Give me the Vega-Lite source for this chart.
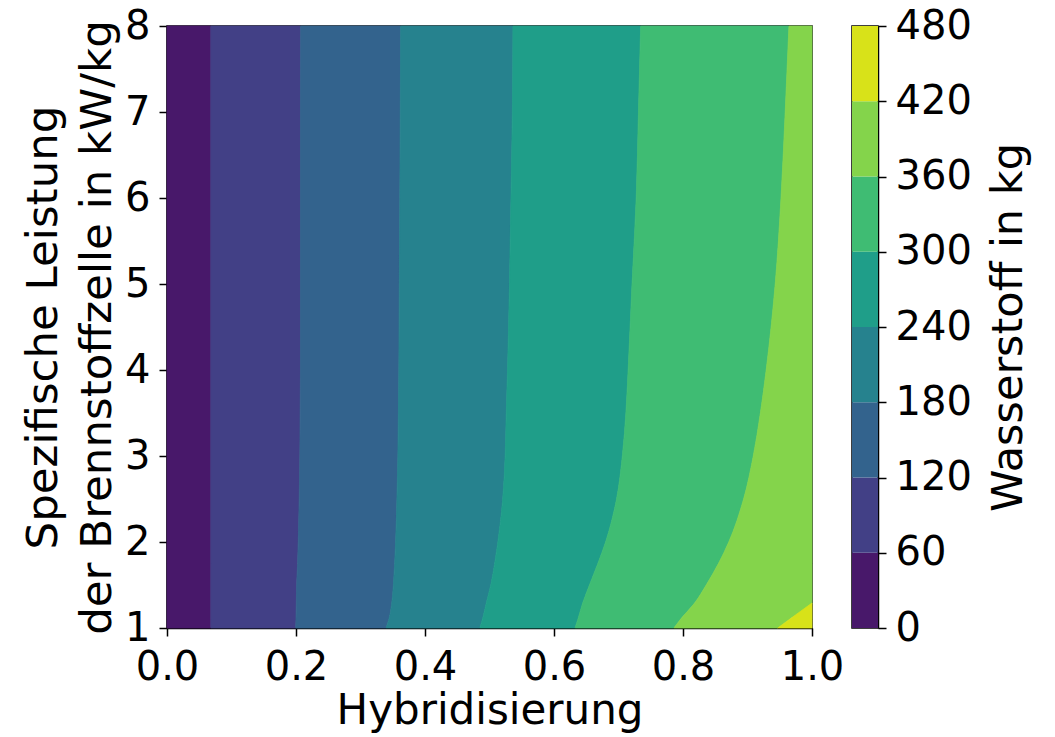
{
  "$schema": "https://vega.github.io/schema/vega-lite/v6.json",
  "background": "white",
  "padding": {"left": 20, "top": 5, "right": 5, "bottom": 2},
  "bounds": "flush",
  "spacing": 40,
  "config": {
    "font": "DejaVu Sans",
    "view": {"stroke": "black", "strokeWidth": 1.5},
    "axis": {
      "grid": false,
      "domainColor": "black",
      "domainWidth": 1.5,
      "tickColor": "black",
      "tickWidth": 1.5,
      "tickSize": 8,
      "labelColor": "black",
      "labelFontSize": 40,
      "labelPadding": 9,
      "labelOverlap": false,
      "labelFlush": false,
      "titleColor": "black",
      "titleFontSize": 42,
      "titleFontWeight": "normal"
    }
  },
  "datasets": {
    "bands": [
      {"band": 0, "y": 1, "x_lo": 0, "x_hi": 0.068},
      {"band": 0, "y": 1.1, "x_lo": 0, "x_hi": 0.068},
      {"band": 0, "y": 1.29, "x_lo": 0, "x_hi": 0.068},
      {"band": 0, "y": 1.5, "x_lo": 0, "x_hi": 0.068},
      {"band": 0, "y": 1.75, "x_lo": 0, "x_hi": 0.068},
      {"band": 0, "y": 2, "x_lo": 0, "x_hi": 0.068},
      {"band": 0, "y": 2.5, "x_lo": 0, "x_hi": 0.068},
      {"band": 0, "y": 3, "x_lo": 0, "x_hi": 0.068},
      {"band": 0, "y": 3.5, "x_lo": 0, "x_hi": 0.068},
      {"band": 0, "y": 4, "x_lo": 0, "x_hi": 0.068},
      {"band": 0, "y": 5, "x_lo": 0, "x_hi": 0.068},
      {"band": 0, "y": 6, "x_lo": 0, "x_hi": 0.068},
      {"band": 0, "y": 7, "x_lo": 0, "x_hi": 0.068},
      {"band": 0, "y": 8, "x_lo": 0, "x_hi": 0.068},

      {"band": 60, "y": 1, "x_lo": 0.068, "x_hi": 0.1995},
      {"band": 60, "y": 1.1, "x_lo": 0.068, "x_hi": 0.2},
      {"band": 60, "y": 1.29, "x_lo": 0.068, "x_hi": 0.2005},
      {"band": 60, "y": 1.5, "x_lo": 0.068, "x_hi": 0.201},
      {"band": 60, "y": 1.75, "x_lo": 0.068, "x_hi": 0.2025},
      {"band": 60, "y": 2, "x_lo": 0.068, "x_hi": 0.2035},
      {"band": 60, "y": 2.5, "x_lo": 0.068, "x_hi": 0.205},
      {"band": 60, "y": 3, "x_lo": 0.068, "x_hi": 0.206},
      {"band": 60, "y": 3.5, "x_lo": 0.068, "x_hi": 0.2065},
      {"band": 60, "y": 4, "x_lo": 0.068, "x_hi": 0.207},
      {"band": 60, "y": 5, "x_lo": 0.068, "x_hi": 0.207},
      {"band": 60, "y": 6, "x_lo": 0.068, "x_hi": 0.207},
      {"band": 60, "y": 7, "x_lo": 0.068, "x_hi": 0.207},
      {"band": 60, "y": 8, "x_lo": 0.068, "x_hi": 0.2073},

      {"band": 120, "y": 1, "x_lo": 0.1995, "x_hi": 0.3395},
      {"band": 120, "y": 1.1, "x_lo": 0.2, "x_hi": 0.344},
      {"band": 120, "y": 1.29, "x_lo": 0.2005, "x_hi": 0.3485},
      {"band": 120, "y": 1.5, "x_lo": 0.201, "x_hi": 0.351},
      {"band": 120, "y": 1.75, "x_lo": 0.2025, "x_hi": 0.353},
      {"band": 120, "y": 2, "x_lo": 0.2035, "x_hi": 0.3545},
      {"band": 120, "y": 2.5, "x_lo": 0.205, "x_hi": 0.3565},
      {"band": 120, "y": 3, "x_lo": 0.206, "x_hi": 0.358},
      {"band": 120, "y": 3.5, "x_lo": 0.2065, "x_hi": 0.3588},
      {"band": 120, "y": 4, "x_lo": 0.207, "x_hi": 0.3595},
      {"band": 120, "y": 5, "x_lo": 0.207, "x_hi": 0.3602},
      {"band": 120, "y": 6, "x_lo": 0.207, "x_hi": 0.361},
      {"band": 120, "y": 7, "x_lo": 0.207, "x_hi": 0.3617},
      {"band": 120, "y": 8, "x_lo": 0.2073, "x_hi": 0.3623},

      {"band": 180, "y": 1, "x_lo": 0.3395, "x_hi": 0.485},
      {"band": 180, "y": 1.1, "x_lo": 0.344, "x_hi": 0.489},
      {"band": 180, "y": 1.29, "x_lo": 0.3485, "x_hi": 0.495},
      {"band": 180, "y": 1.5, "x_lo": 0.351, "x_hi": 0.502},
      {"band": 180, "y": 1.75, "x_lo": 0.353, "x_hi": 0.508},
      {"band": 180, "y": 2, "x_lo": 0.3545, "x_hi": 0.513},
      {"band": 180, "y": 2.5, "x_lo": 0.3565, "x_hi": 0.5205},
      {"band": 180, "y": 3, "x_lo": 0.358, "x_hi": 0.5243},
      {"band": 180, "y": 3.5, "x_lo": 0.3588, "x_hi": 0.526},
      {"band": 180, "y": 4, "x_lo": 0.3595, "x_hi": 0.528},
      {"band": 180, "y": 5, "x_lo": 0.3602, "x_hi": 0.531},
      {"band": 180, "y": 6, "x_lo": 0.361, "x_hi": 0.5333},
      {"band": 180, "y": 7, "x_lo": 0.3617, "x_hi": 0.5355},
      {"band": 180, "y": 8, "x_lo": 0.3623, "x_hi": 0.5364},

      {"band": 240, "y": 1, "x_lo": 0.485, "x_hi": 0.6326},
      {"band": 240, "y": 1.1, "x_lo": 0.489, "x_hi": 0.637},
      {"band": 240, "y": 1.29, "x_lo": 0.495, "x_hi": 0.6445},
      {"band": 240, "y": 1.5, "x_lo": 0.502, "x_hi": 0.655},
      {"band": 240, "y": 1.75, "x_lo": 0.508, "x_hi": 0.668},
      {"band": 240, "y": 2, "x_lo": 0.513, "x_hi": 0.68},
      {"band": 240, "y": 2.5, "x_lo": 0.5205, "x_hi": 0.697},
      {"band": 240, "y": 3, "x_lo": 0.5243, "x_hi": 0.706},
      {"band": 240, "y": 3.5, "x_lo": 0.526, "x_hi": 0.7115},
      {"band": 240, "y": 4, "x_lo": 0.528, "x_hi": 0.715},
      {"band": 240, "y": 5, "x_lo": 0.531, "x_hi": 0.721},
      {"band": 240, "y": 6, "x_lo": 0.5333, "x_hi": 0.7275},
      {"band": 240, "y": 7, "x_lo": 0.5355, "x_hi": 0.731},
      {"band": 240, "y": 8, "x_lo": 0.5364, "x_hi": 0.7344},

      {"band": 300, "y": 1, "x_lo": 0.6326, "x_hi": 0.786},
      {"band": 300, "y": 1.1, "x_lo": 0.637, "x_hi": 0.796},
      {"band": 300, "y": 1.29, "x_lo": 0.6445, "x_hi": 0.818},
      {"band": 300, "y": 1.5, "x_lo": 0.655, "x_hi": 0.836},
      {"band": 300, "y": 1.75, "x_lo": 0.668, "x_hi": 0.855},
      {"band": 300, "y": 2, "x_lo": 0.68, "x_hi": 0.871},
      {"band": 300, "y": 2.5, "x_lo": 0.697, "x_hi": 0.894},
      {"band": 300, "y": 3, "x_lo": 0.706, "x_hi": 0.909},
      {"band": 300, "y": 3.5, "x_lo": 0.7115, "x_hi": 0.92},
      {"band": 300, "y": 4, "x_lo": 0.715, "x_hi": 0.929},
      {"band": 300, "y": 5, "x_lo": 0.721, "x_hi": 0.943},
      {"band": 300, "y": 6, "x_lo": 0.7275, "x_hi": 0.952},
      {"band": 300, "y": 7, "x_lo": 0.731, "x_hi": 0.9585},
      {"band": 300, "y": 8, "x_lo": 0.7344, "x_hi": 0.9643},

      {"band": 360, "y": 1, "x_lo": 0.786, "x_hi": 0.947},
      {"band": 360, "y": 1.1, "x_lo": 0.796, "x_hi": 0.965},
      {"band": 360, "y": 1.29, "x_lo": 0.818, "x_hi": 1},
      {"band": 360, "y": 1.5, "x_lo": 0.836, "x_hi": 1},
      {"band": 360, "y": 1.75, "x_lo": 0.855, "x_hi": 1},
      {"band": 360, "y": 2, "x_lo": 0.871, "x_hi": 1},
      {"band": 360, "y": 2.5, "x_lo": 0.894, "x_hi": 1},
      {"band": 360, "y": 3, "x_lo": 0.909, "x_hi": 1},
      {"band": 360, "y": 3.5, "x_lo": 0.92, "x_hi": 1},
      {"band": 360, "y": 4, "x_lo": 0.929, "x_hi": 1},
      {"band": 360, "y": 5, "x_lo": 0.943, "x_hi": 1},
      {"band": 360, "y": 6, "x_lo": 0.952, "x_hi": 1},
      {"band": 360, "y": 7, "x_lo": 0.9585, "x_hi": 1},
      {"band": 360, "y": 8, "x_lo": 0.9643, "x_hi": 1},

      {"band": 420, "y": 1, "x_lo": 0.947, "x_hi": 1},
      {"band": 420, "y": 1.1, "x_lo": 0.965, "x_hi": 1},
      {"band": 420, "y": 1.29, "x_lo": 1, "x_hi": 1}
    ],
    "bar": [
      {"band": 0, "hi": 60},
      {"band": 60, "hi": 120},
      {"band": 120, "hi": 180},
      {"band": 180, "hi": 240},
      {"band": 240, "hi": 300},
      {"band": 300, "hi": 360},
      {"band": 360, "hi": 420},
      {"band": 420, "hi": 480}
    ]
  },
  "hconcat": [
    {
      "width": 645,
      "height": 602,
      "data": {"name": "bands"},
      "mark": {"type": "area", "orient": "horizontal", "interpolate": "monotone", "strokeWidth": 0.8},
      "encoding": {
        "y": {
          "field": "y", "type": "quantitative",
          "scale": {"domain": [1, 8], "nice": false, "zero": false},
          "axis": {"values": [1, 2, 3, 4, 5, 6, 7, 8], "title": ["Spezifische Leistung", "der Brennstoffzelle in kW/kg"], "titleFontSize": 43.5, "titleLineHeight": 54, "titlePadding": 5}
        },
        "x": {
          "field": "x_lo", "type": "quantitative",
          "scale": {"domain": [0, 1], "nice": false, "zero": false},
          "axis": {"values": [0, 0.2, 0.4, 0.6, 0.8, 1], "format": ".1f", "title": "Hybridisierung", "labelPadding": 11, "titlePadding": 3}
        },
        "x2": {"field": "x_hi"},
        "color": {
          "field": "band", "type": "ordinal",
          "scale": {"domain": [0, 60, 120, 180, 240, 300, 360, 420], "range": ["#48186a", "#424086", "#33638d", "#26828e", "#1f9e89", "#3fbc73", "#84d44b", "#d8e219"]},
          "legend": null
        },
        "stroke": {
          "field": "band", "type": "ordinal",
          "scale": {"domain": [0, 60, 120, 180, 240, 300, 360, 420], "range": ["#48186a", "#424086", "#33638d", "#26828e", "#1f9e89", "#3fbc73", "#84d44b", "#d8e219"]},
          "legend": null
        }
      }
    },
    {
      "width": 26,
      "height": 602,
      "data": {"name": "bar"},
      "mark": {"type": "rect"},
      "encoding": {
        "y": {
          "field": "band", "type": "quantitative",
          "scale": {"domain": [0, 480], "nice": false, "zero": false},
          "axis": {"orient": "right", "values": [0, 60, 120, 180, 240, 300, 360, 420, 480], "title": "Wasserstoff in kg", "titleFontSize": 43, "titleAngle": 270, "titleBaseline": "top", "titlePadding": 16}
        },
        "y2": {"field": "hi"},
        "color": {
          "field": "band", "type": "ordinal",
          "scale": {"domain": [0, 60, 120, 180, 240, 300, 360, 420], "range": ["#48186a", "#424086", "#33638d", "#26828e", "#1f9e89", "#3fbc73", "#84d44b", "#d8e219"]},
          "legend": null
        }
      }
    }
  ]
}
